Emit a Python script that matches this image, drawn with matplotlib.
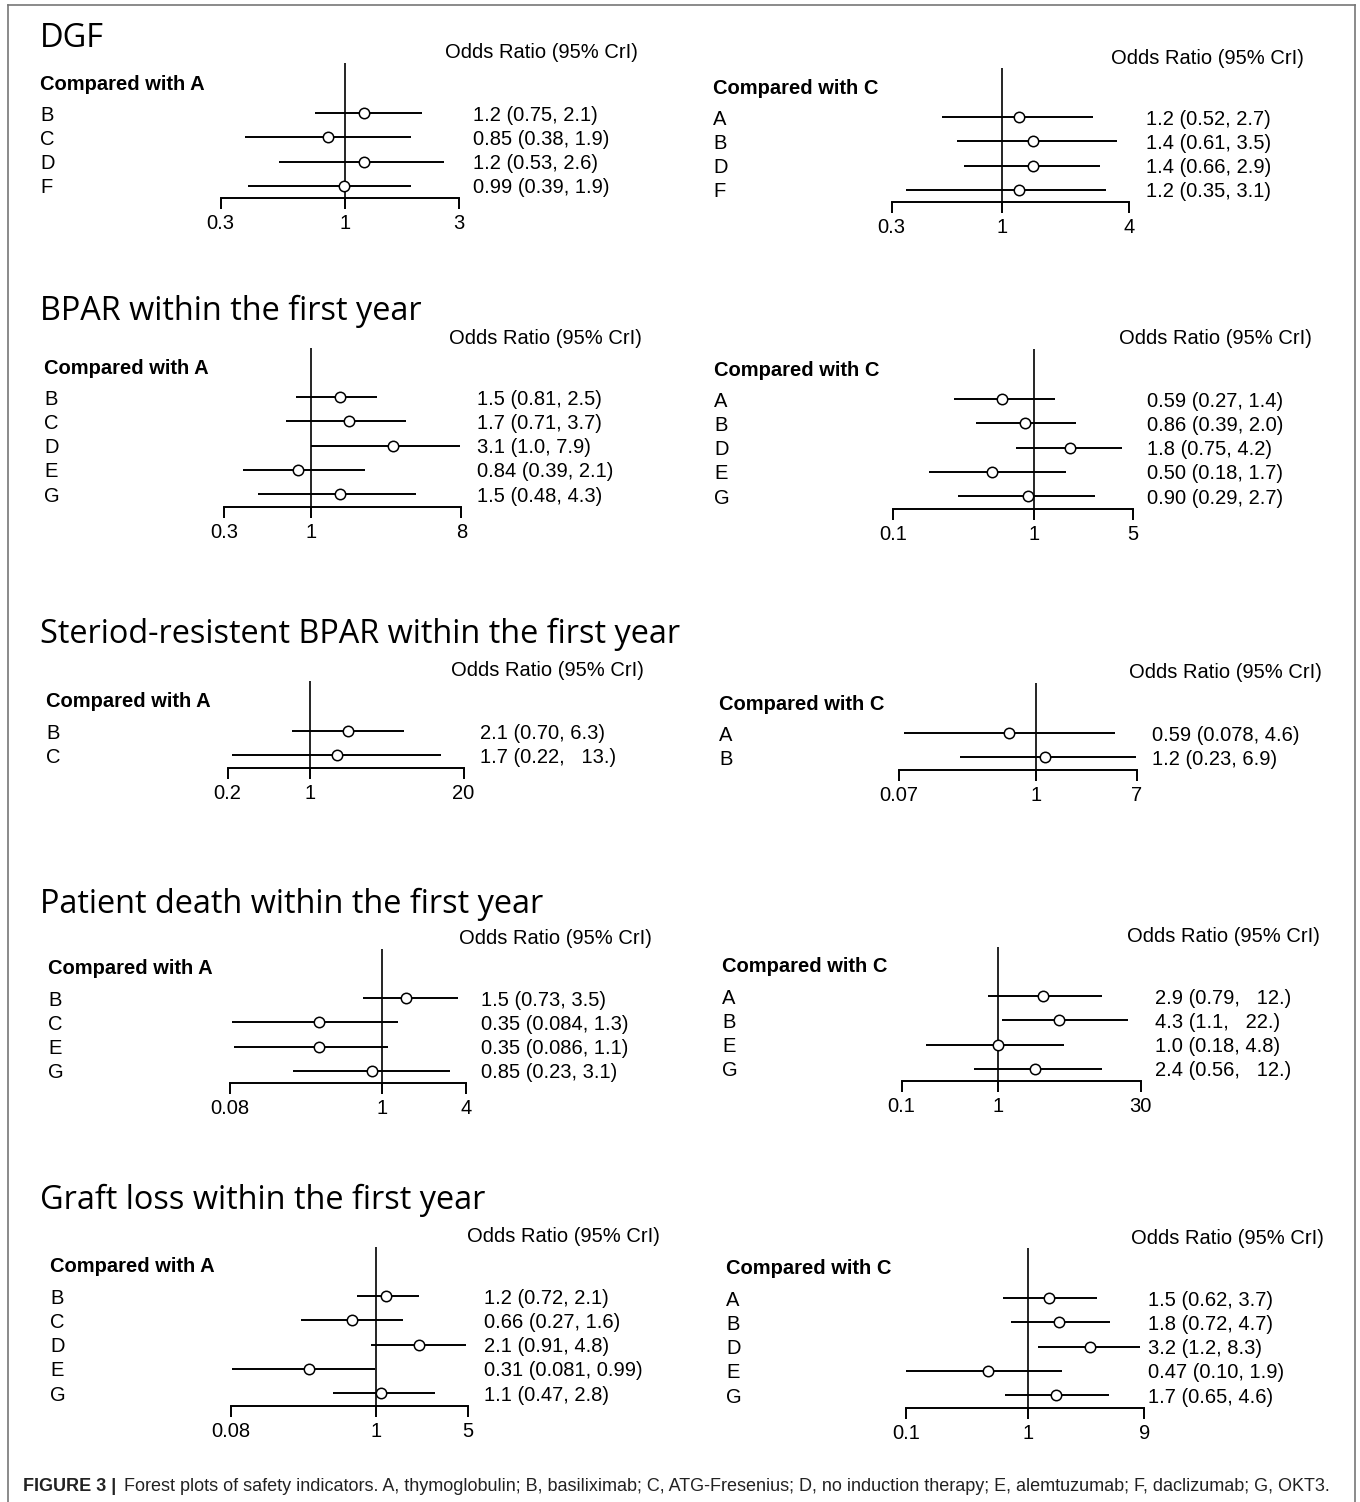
import numpy as np
import matplotlib
matplotlib.use('Agg')
import matplotlib.pyplot as plt
from matplotlib import transforms
from matplotlib.lines import Line2D

W, H = 1360, 1502

# ---- data (odds ratio, 95% CrI) ----
titles = ['DGF', 'BPAR within the first year',
          'Steriod-resistent BPAR within the first year',
          'Patient death within the first year', 'Graft loss within the first year']

dgf_a_lab = ['B', 'C', 'D', 'F']
dgf_a_or = [1.2, 0.85, 1.2, 0.99]
dgf_a_lo = [0.75, 0.38, 0.53, 0.39]
dgf_a_hi = [2.1, 1.9, 2.6, 1.9]
dgf_a_txt = ['1.2 (0.75, 2.1)', '0.85 (0.38, 1.9)', '1.2 (0.53, 2.6)', '0.99 (0.39, 1.9)']
dgf_a_ticks = [0.3, 1, 3]

dgf_c_lab = ['A', 'B', 'D', 'F']
dgf_c_or = [1.2, 1.4, 1.4, 1.2]
dgf_c_lo = [0.52, 0.61, 0.66, 0.35]
dgf_c_hi = [2.7, 3.5, 2.9, 3.1]
dgf_c_txt = ['1.2 (0.52, 2.7)', '1.4 (0.61, 3.5)', '1.4 (0.66, 2.9)', '1.2 (0.35, 3.1)']
dgf_c_ticks = [0.3, 1, 4]

bpar_a_lab = ['B', 'C', 'D', 'E', 'G']
bpar_a_or = [1.5, 1.7, 3.1, 0.84, 1.5]
bpar_a_lo = [0.81, 0.71, 1.0, 0.39, 0.48]
bpar_a_hi = [2.5, 3.7, 7.9, 2.1, 4.3]
bpar_a_txt = ['1.5 (0.81, 2.5)', '1.7 (0.71, 3.7)', '3.1 (1.0, 7.9)', '0.84 (0.39, 2.1)', '1.5 (0.48, 4.3)']
bpar_a_ticks = [0.3, 1, 8]

bpar_c_lab = ['A', 'B', 'D', 'E', 'G']
bpar_c_or = [0.59, 0.86, 1.8, 0.50, 0.90]
bpar_c_lo = [0.27, 0.39, 0.75, 0.18, 0.29]
bpar_c_hi = [1.4, 2.0, 4.2, 1.7, 2.7]
bpar_c_txt = ['0.59 (0.27, 1.4)', '0.86 (0.39, 2.0)', '1.8 (0.75, 4.2)', '0.50 (0.18, 1.7)', '0.90 (0.29, 2.7)']
bpar_c_ticks = [0.1, 1, 5]

sr_a_lab = ['B', 'C']
sr_a_or = [2.1, 1.7]
sr_a_lo = [0.70, 0.22]
sr_a_hi = [6.3, 13.]
sr_a_txt = ['2.1 (0.70, 6.3)', '1.7 (0.22,   13.)']
sr_a_ticks = [0.2, 1, 20]

sr_c_lab = ['A', 'B']
sr_c_or = [0.59, 1.2]
sr_c_lo = [0.078, 0.23]
sr_c_hi = [4.6, 6.9]
sr_c_txt = ['0.59 (0.078, 4.6)', '1.2 (0.23, 6.9)']
sr_c_ticks = [0.07, 1, 7]

pd_a_lab = ['B', 'C', 'E', 'G']
pd_a_or = [1.5, 0.35, 0.35, 0.85]
pd_a_lo = [0.73, 0.084, 0.086, 0.23]
pd_a_hi = [3.5, 1.3, 1.1, 3.1]
pd_a_txt = ['1.5 (0.73, 3.5)', '0.35 (0.084, 1.3)', '0.35 (0.086, 1.1)', '0.85 (0.23, 3.1)']
pd_a_ticks = [0.08, 1, 4]

pd_c_lab = ['A', 'B', 'E', 'G']
pd_c_or = [2.9, 4.3, 1.0, 2.4]
pd_c_lo = [0.79, 1.1, 0.18, 0.56]
pd_c_hi = [12., 22., 4.8, 12.]
pd_c_txt = ['2.9 (0.79,   12.)', '4.3 (1.1,   22.)', '1.0 (0.18, 4.8)', '2.4 (0.56,   12.)']
pd_c_ticks = [0.1, 1, 30]

gl_a_lab = ['B', 'C', 'D', 'E', 'G']
gl_a_or = [1.2, 0.66, 2.1, 0.31, 1.1]
gl_a_lo = [0.72, 0.27, 0.91, 0.081, 0.47]
gl_a_hi = [2.1, 1.6, 4.8, 0.99, 2.8]
gl_a_txt = ['1.2 (0.72, 2.1)', '0.66 (0.27, 1.6)', '2.1 (0.91, 4.8)', '0.31 (0.081, 0.99)', '1.1 (0.47, 2.8)']
gl_a_ticks = [0.08, 1, 5]

gl_c_lab = ['A', 'B', 'D', 'E', 'G']
gl_c_or = [1.5, 1.8, 3.2, 0.47, 1.7]
gl_c_lo = [0.62, 0.72, 1.2, 0.10, 0.65]
gl_c_hi = [3.7, 4.7, 8.3, 1.9, 4.6]
gl_c_txt = ['1.5 (0.62, 3.7)', '1.8 (0.72, 4.7)', '3.2 (1.2, 8.3)', '0.47 (0.10, 1.9)', '1.7 (0.65, 4.6)']
gl_c_ticks = [0.1, 1, 9]

caption_bold = 'FIGURE 3 |'
caption = ('Forest plots of safety indicators. A, thymoglobulin; B, basiliximab; C, ATG-Fresenius; '
           'D, no induction therapy; E, alemtuzumab; F, daclizumab; G, OKT3.')

# ---- layout in pixels: ref x of OR=1, px per decade, first row y, header xy, compared xy, label x, value x
panels = [
    (dgf_a_lab, dgf_a_or, dgf_a_lo, dgf_a_hi, dgf_a_txt, dgf_a_ticks, 'A', 345, 238, 113, (445, 52), (40, 83), 40, 473),
    (dgf_c_lab, dgf_c_or, dgf_c_lo, dgf_c_hi, dgf_c_txt, dgf_c_ticks, 'C', 1002, 211, 117, (1111, 57), (713, 87), 713, 1146),
    (bpar_a_lab, bpar_a_or, bpar_a_lo, bpar_a_hi, bpar_a_txt, bpar_a_ticks, 'A', 311, 166.5, 397, (449, 337), (44, 367), 44, 477),
    (bpar_c_lab, bpar_c_or, bpar_c_lo, bpar_c_hi, bpar_c_txt, bpar_c_ticks, 'C', 1034, 141, 399, (1119, 338), (714, 369), 714, 1147),
    (sr_a_lab, sr_a_or, sr_a_lo, sr_a_hi, sr_a_txt, sr_a_ticks, 'A', 310, 118, 731, (451, 670), (46, 701), 46, 480),
    (sr_c_lab, sr_c_or, sr_c_lo, sr_c_hi, sr_c_txt, sr_c_ticks, 'C', 1036, 119, 733, (1129, 672), (719, 703), 719, 1152),
    (pd_a_lab, pd_a_or, pd_a_lo, pd_a_hi, pd_a_txt, pd_a_ticks, 'A', 382, 139, 998, (459, 938), (48, 968), 48, 481),
    (pd_c_lab, pd_c_or, pd_c_lo, pd_c_hi, pd_c_txt, pd_c_ticks, 'C', 998, 96.5, 996, (1127, 936), (722, 966), 722, 1155),
    (gl_a_lab, gl_a_or, gl_a_lo, gl_a_hi, gl_a_txt, gl_a_ticks, 'A', 376, 132, 1296, (467, 1236), (50, 1266), 50, 484),
    (gl_c_lab, gl_c_or, gl_c_lo, gl_c_hi, gl_c_txt, gl_c_ticks, 'C', 1028, 122, 1298, (1131, 1237), (726, 1268), 726, 1148),
]
title_pos = [(40, 47), (40, 320), (40, 643), (40, 913), (40, 1209)]

SP = 24.3  # row spacing px
FS = 14.5
plt.rcParams['font.family'] = ['Liberation Sans', 'DejaVu Sans']

fig = plt.figure(figsize=(W / 100, H / 100), dpi=100)
fx = lambda px: px / W
fy = lambda py: 1 - py / H

for (lab, orr, lo, hi, txt, ticks, base, ref, k, row0, hdr, cmp, lab_x, val_x) in panels:
    n = len(lab)
    top_py = hdr[1] + 11
    axis_py = row0 + (n - 1) * SP + 12.5
    left = ref + np.log10(ticks[0]) * k
    right = ref + np.log10(ticks[-1]) * k
    ax = fig.add_axes([fx(left), fy(axis_py), (right - left) / W, (axis_py - top_py) / H])
    ax.set_xscale('log')
    ax.set_xlim(ticks[0], ticks[-1])
    ax.set_ylim((axis_py - row0) / SP, (top_py - row0) / SP)
    y = np.arange(n)
    ax.axvline(1, color='black', lw=1.2)
    ax.hlines(y, lo, hi, color='black', lw=1.4)
    ax.plot(orr, y, 'o', ms=7.5, mfc='white', mec='black', mew=1.1, zorder=3)
    for s in ['top', 'right', 'left']:
        ax.spines[s].set_visible(False)
    ax.spines['bottom'].set_linewidth(1.4)
    ax.set_yticks([])
    ax.set_xticks(ticks)
    ax.set_xticklabels([('%g' % t) for t in ticks], fontsize=FS)
    ax.xaxis.set_minor_locator(matplotlib.ticker.NullLocator())
    ax.tick_params(axis='x', length=8, width=1.4, pad=3.5)
    tr = transforms.blended_transform_factory(fig.transFigure, ax.transData)
    tr = transforms.offset_copy(tr, fig=fig, y=-1.5, units='points')
    for i in range(n):
        ax.text(fx(lab_x), i, lab[i], transform=tr, fontsize=FS, va='center', ha='left')
        ax.text(fx(val_x), i, txt[i], transform=tr, fontsize=FS, va='center', ha='left')
    fig.text(fx(hdr[0]), fy(hdr[1] + 1), 'Odds Ratio (95% CrI)', fontsize=FS, va='center', ha='left')
    fig.text(fx(cmp[0]), fy(cmp[1] + 1), 'Compared with ' + base, fontsize=FS, fontweight='bold',
             va='center', ha='left')

for t, (px, py) in zip(titles, title_pos):
    fig.text(fx(px), fy(py), t, fontsize=23.4, family=['Open Sans', 'DejaVu Sans'],
             va='baseline', ha='left')

fig.text(fx(23), fy(1491), caption_bold, fontsize=13, fontweight='bold', color='#222222',
         va='baseline', ha='left')
fig.text(fx(124), fy(1491), caption, fontsize=13, color='#222222', va='baseline', ha='left')

# figure frame (open at the bottom)
for xs, ys in [([8, 8], [1502, 5]), ([8, 1355], [5, 5]), ([1355, 1355], [5, 1502])]:
    fig.add_artist(Line2D([fx(v) for v in xs], [fy(v) for v in ys], color='#777777', lw=1.2))

fig.savefig('out.png', dpi=100)
